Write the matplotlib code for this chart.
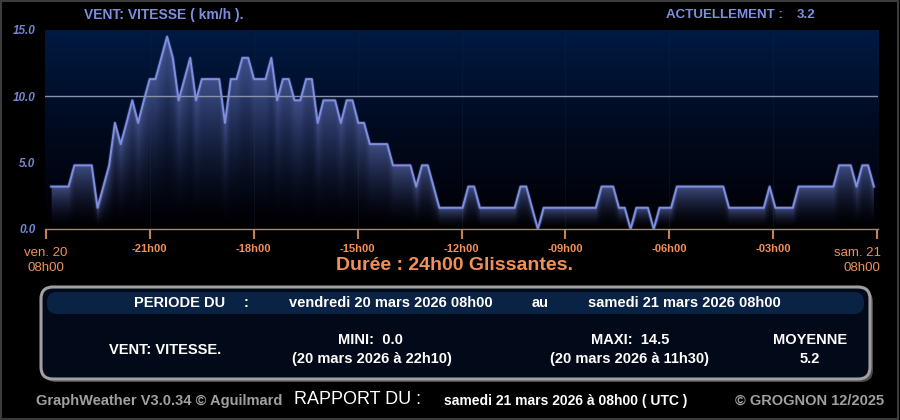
import numpy as np
import matplotlib
matplotlib.use("Agg")
import matplotlib.pyplot as plt
from matplotlib.patches import FancyBboxPatch, Rectangle, Polygon
from matplotlib.colors import to_rgb

# Vitesse du vent (km/h), un relevé toutes les 10 min sur 24h glissantes
vitesse = [3.2, 3.2, 3.2, 3.2, 4.8, 4.8, 4.8, 4.8, 1.6, 3.2,
           4.8, 8.0, 6.4, 8.0, 9.7, 8.0, 9.7, 11.3, 11.3, 12.9,
           14.5, 12.9, 9.7, 11.3, 12.9, 9.7, 11.3, 11.3, 11.3, 11.3,
           8.0, 11.3, 11.3, 12.9, 12.9, 11.3, 11.3, 11.3, 12.9, 9.7,
           11.3, 11.3, 9.7, 9.7, 11.3, 11.3, 8.0, 9.7, 9.7, 9.7,
           8.0, 9.7, 9.7, 8.0, 8.0, 6.4, 6.4, 6.4, 6.4, 4.8,
           4.8, 4.8, 4.8, 3.2, 4.8, 4.8, 3.2, 1.6, 1.6, 1.6,
           1.6, 1.6, 3.2, 3.2, 1.6, 1.6, 1.6, 1.6, 1.6, 1.6,
           1.6, 3.2, 3.2, 1.6, 0.0, 1.6, 1.6, 1.6, 1.6, 1.6,
           1.6, 1.6, 1.6, 1.6, 1.6, 3.2, 3.2, 3.2, 1.6, 1.6,
           0.0, 1.6, 1.6, 1.6, 0.0, 1.6, 1.6, 1.6, 3.2, 3.2,
           3.2, 3.2, 3.2, 3.2, 3.2, 3.2, 3.2, 1.6, 1.6, 1.6,
           1.6, 1.6, 1.6, 1.6, 3.2, 1.6, 1.6, 1.6, 1.6, 3.2,
           3.2, 3.2, 3.2, 3.2, 3.2, 3.2, 4.8, 4.8, 4.8, 3.2,
           4.8, 4.8, 3.2]
# heures relatives à la fin de la période (premier et dernier relevé)
t_debut, t_fin = -23.85, -0.09
heures = np.linspace(t_debut, t_fin, len(vitesse))

ticks_h = [-24, -21, -18, -15, -12, -9, -6, -3, 0]
ticks_lbl = ['', '-21h00', '-18h00', '-15h00', '-12h00', '-09h00', '-06h00', '-03h00', '']
yticks = [0, 5, 10, 15]

BLEU = '#7f8fe0'
ORANGE = '#f29058'
GRIS = '#a0a0a0'

plt.rcParams['font.family'] = ['Liberation Sans', 'DejaVu Sans']

fig = plt.figure(figsize=(9, 4.2), dpi=100, facecolor='black')

# calque en pixels pour les cadres et les textes
bg = fig.add_axes([0, 0, 1, 1], zorder=0)
bg.set_xlim(0, 900)
bg.set_ylim(420, 0)
bg.axis('off')
bg.add_patch(Rectangle((0.5, 0.5), 897, 418, fill=False, ec='#3c3c3c', lw=1.5))

# zone du graphique
x0, x1, y0, y1 = 45, 878, 30, 229
ax = fig.add_axes([x0 / 900, 1 - y1 / 420, (x1 - x0) / 900, (y1 - y0) / 420], zorder=1)
pxh = (877 - 46) / 24.0
xmin = -24 - (46 - x0) / pxh
xmax = 0 + (x1 - 877) / pxh
ax.set_xlim(xmin, xmax)
ax.set_ylim(0, 15)

# fond dégradé
g = np.linspace(0, 1, 256)
c_bas = to_rgb('#000003')
c_mil = to_rgb('#000a1f')
c_haut = to_rgb('#001a42')
cols = np.zeros((256, 1, 3))
for k in range(3):
    cols[:, 0, k] = np.interp(g, [0, 0.5, 1], [c_bas[k], c_mil[k], c_haut[k]])
ax.imshow(cols, extent=[xmin, xmax, 0, 15], origin='lower', aspect='auto', zorder=0)

for t in ticks_h[1:-1]:
    ax.axvline(t, color='#1c2640', lw=0.8, alpha=0.3, zorder=1)

# remplissage dégradé sous la courbe
W, H = 1400, 500
gx = np.linspace(xmin, xmax, W)
gy = np.linspace(0, 15, H)
courbe = np.interp(gx, heures, vitesse, left=np.nan, right=np.nan)
frac = gy[:, None] / np.where(courbe > 0, courbe, np.nan)[None, :]
alpha = np.clip(np.nan_to_num(frac, nan=0.0), 0, 1) ** 1.8 * 0.72
rgba = np.zeros((H, W, 4))
rgba[..., :3] = to_rgb('#5868ac')
rgba[..., 3] = alpha
im = ax.imshow(rgba, extent=[xmin, xmax, 0, 15], origin='lower', aspect='auto', zorder=2)
poly = Polygon(np.column_stack([np.r_[heures[0], heures, heures[-1]],
                                np.r_[0, vitesse, 0]]), closed=True,
               transform=ax.transData, fc='none', ec='none')
ax.add_patch(poly)
im.set_clip_path(poly)

ax.axhline(10, color='#8a92aa', lw=1, zorder=3)
ax.plot(heures, vitesse, color='#6f80d0', lw=2.6, alpha=0.25, zorder=4)
ax.plot(heures, vitesse, color=BLEU, lw=1.4, zorder=5)

for s in ['top', 'left', 'right']:
    ax.spines[s].set_visible(False)
ax.spines['bottom'].set_color('#9a8a78')
ax.spines['bottom'].set_linewidth(1)
ax.set_xticks(ticks_h)
ax.set_xticklabels(ticks_lbl)
ax.tick_params(axis='x', direction='out', length=7.5, width=1.5, color='#c98050',
               labelcolor=ORANGE, labelsize=8, pad=3)
for lb in ax.get_xticklabels():
    lb.set_fontweight('bold')
ax.set_yticks(yticks)
ax.set_yticklabels([f'{v:.1f}' for v in yticks])
ax.tick_params(axis='y', length=0, pad=7, labelcolor='#7585d0', labelsize=8.5)
for lb in ax.get_yticklabels():
    lb.set_fontweight('bold')
    lb.set_fontstyle('italic')

# en-tête
bg.text(84, 15, 'VENT: VITESSE ( km/h ).', color=BLEU, fontsize=10, fontweight='bold', va='center')
bg.text(666, 15, 'ACTUELLEMENT :', color=BLEU, fontsize=9.6, fontweight='bold', va='center')
bg.text(797, 15, '3.2', color=BLEU, fontsize=9.6, fontweight='bold', va='center')

# bornes de l'axe
bg.text(46, 253, 'ven. 20', color=ORANGE, fontsize=9.5, ha='center', va='center')
bg.text(46, 268, '08h00', color=ORANGE, fontsize=9.5, ha='center', va='center')
bg.text(881, 253, 'sam. 21', color=ORANGE, fontsize=9.5, ha='right', va='center')
bg.text(880, 268, '08h00', color=ORANGE, fontsize=9.5, ha='right', va='center')
bg.text(455, 266, 'Durée : 24h00 Glissantes.', color=ORANGE, fontsize=14,
        fontweight='bold', ha='center', va='center')

# cadre du rapport
bg.add_patch(FancyBboxPatch((44, 290), 829, 92, boxstyle='round,pad=0,rounding_size=12',
                            fc='#4a4a4a', ec='none', zorder=1))
bg.add_patch(FancyBboxPatch((41, 287), 829, 92, boxstyle='round,pad=0,rounding_size=12',
                            fc='#020a1a', ec='#a0a0a0', lw=2.2, zorder=2))
bg.add_patch(FancyBboxPatch((47, 292), 817, 22, boxstyle='round,pad=0,rounding_size=10',
                            fc='#0a2244', ec='none', zorder=3))

kw = dict(color='white', fontsize=10.5, fontweight='bold', va='center', zorder=4)
bg.text(180, 303, 'PERIODE DU', ha='center', **kw)
bg.text(246, 303, ':', ha='center', **kw)
bg.text(391, 303, 'vendredi 20 mars 2026 08h00', ha='center', **kw)
bg.text(540, 303, 'au', ha='center', **kw)
bg.text(684, 303, 'samedi 21 mars 2026 08h00', ha='center', **kw)

bg.text(165, 350, 'VENT: VITESSE.', ha='center', **kw)
bg.text(370, 340, 'MINI:  0.0', ha='center', **kw)
bg.text(372, 359, '(20 mars 2026 à 22h10)', ha='center', **kw)
bg.text(630, 340, 'MAXI:  14.5', ha='center', **kw)
bg.text(630, 359, '(20 mars 2026 à 11h30)', ha='center', **kw)
bg.text(810, 340, 'MOYENNE', ha='center', **kw)
bg.text(810, 359, '5.2', ha='center', **kw)

# pied de page
bg.text(36, 401, 'GraphWeather V3.0.34 © Aguilmard', color=GRIS, fontsize=10.5,
        fontweight='bold', va='center')
bg.text(294, 400, 'RAPPORT DU :', color='white', fontsize=13, va='center')
bg.text(444, 401, 'samedi 21 mars 2026 à 08h00 ( UTC )', color='white', fontsize=10,
        fontweight='bold', va='center')
bg.text(884, 401, '© GROGNON 12/2025', color=GRIS, fontsize=10.5, fontweight='bold',
        ha='right', va='center')

fig.savefig('out.png', dpi=100, facecolor='black')
